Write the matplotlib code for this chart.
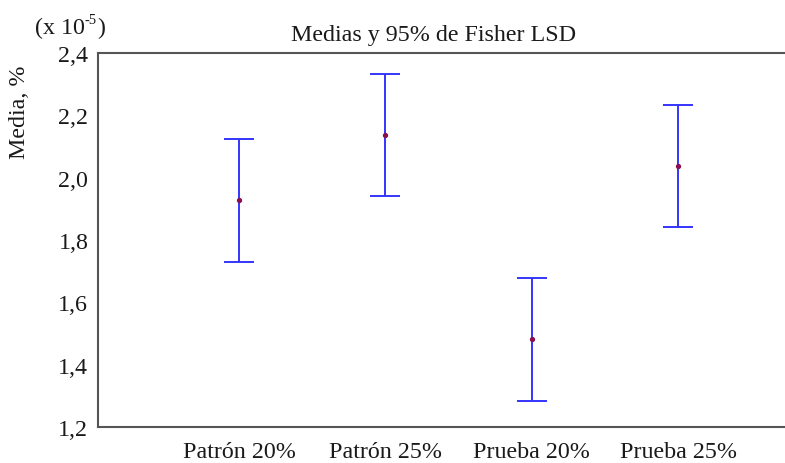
import matplotlib
matplotlib.use("Agg")
import matplotlib.pyplot as plt
from matplotlib.ticker import FuncFormatter

categories = ["Patrón 20%", "Patrón 25%", "Prueba 20%", "Prueba 25%"]
means = [1.928, 2.137, 1.482, 2.037]
lower = [1.731, 1.941, 1.284, 1.841]
upper = [2.125, 2.333, 1.679, 2.234]
yticks = [1.2, 1.4, 1.6, 1.8, 2.0, 2.2, 2.4]

plt.rcParams['font.family'] = ['Liberation Serif', 'DejaVu Serif']

W, H = 785, 464
FS = 17.3
TXT = '#1a1a1a'
fig = plt.figure(figsize=(W / 100, H / 100), dpi=100)
ax = fig.add_axes([98 / W, 1 - 428 / H, 1 - 98 / W, (428 - 54) / H])

x = list(range(1, len(categories) + 1))
err_lo = [m - l for m, l in zip(means, lower)]
err_hi = [u - m for m, u in zip(means, upper)]
ax.errorbar(x, means, yerr=[err_lo, err_hi], fmt='none', ecolor='#3535ff',
            elinewidth=1.4, capsize=10.8, capthick=1.4)
ax.plot(x, means, 'o', ms=2.8, color='#8a1050', mec='#8a1050', zorder=3)

ax.set_xlim(0.036, 4.73)
ax.set_ylim(1.2, 2.4)
ax.set_yticks(yticks)
ax.yaxis.set_major_formatter(FuncFormatter(lambda v, p: f"{v:.1f}".replace('.', ',')))
ax.set_xticks(x)
ax.set_xticklabels(categories)
ax.tick_params(axis='both', length=0, labelsize=FS, colors=TXT)
ax.tick_params(axis='y', pad=7)
ax.tick_params(axis='x', pad=10)

for s in ['left', 'top', 'bottom']:
    ax.spines[s].set_color('#555555')
    ax.spines[s].set_linewidth(1.5)
ax.spines['right'].set_visible(False)

ax.set_title("Medias y 95% de Fisher LSD", fontsize=FS, color=TXT, pad=9, x=0.488)

fig.text(20 / W, 1 - 112 / H, "Media, %", rotation=90, ha='center', va='center',
         fontsize=FS, color=TXT)

t1 = fig.text(35 / W, 1 - 28 / H, "(x 10", ha='left', va='center', fontsize=FS, color=TXT)
fig.canvas.draw()
r = fig.canvas.get_renderer()
bb = t1.get_window_extent(r)
t2 = fig.text(bb.x1 / W, 1 - 21 / H, "-5", ha='left', va='center', fontsize=10.5, color=TXT)
bb2 = t2.get_window_extent(r)
fig.text(bb2.x1 / W, 1 - 28 / H, ")", ha='left', va='center', fontsize=FS, color=TXT)

fig.savefig("out.png", dpi=100, facecolor='white')
